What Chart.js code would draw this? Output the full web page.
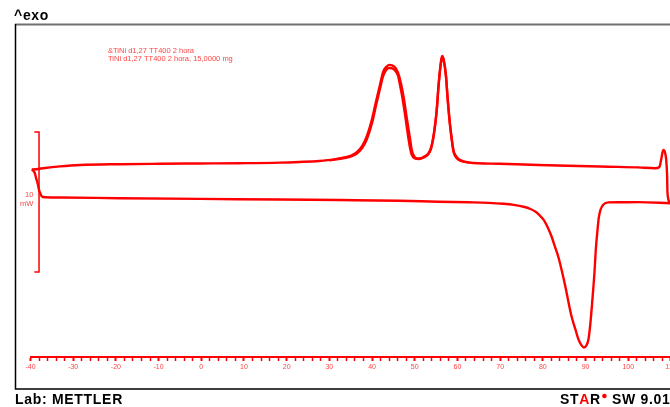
<!DOCTYPE html>
<html>
<head>
<meta charset="utf-8">
<script src="https://cdn.jsdelivr.net/npm/chart.js@4/dist/chart.umd.min.js"></script>
<style>
html, body { margin: 0; padding: 0; overflow: hidden; background: #fff; }
canvas { display: block; }
</style>
</head>
<body>
<canvas id="dsc" width="690" height="407"></canvas>
<script>
// cooling run (lower trace), read right to left, ends with the isothermal hook at -40 °C
var coolTemp = [109.8, 102.3, 97.7, 95.3, 94.2, 93.5, 93.1, 92.8, 92.4, 92.1, 91.6, 91.1, 90.7, 90.2, 89.6,
    89.0, 88.3, 87.6, 86.7, 86.0, 85.3, 84.4, 83.7, 82.7, 82.0, 81.1, 80.2, 79.2, 78.3, 77.1, 75.5, 73.2, 70.8,
    67.3, 62.7, 55.6, 46.3, 32.3, 18.3, -0.4, -19.1, -33.1, -36.6, -37.3, -37.6, -38.0, -38.3, -38.7, -39.0, -39.4, -39.7];
var coolFlow = [10.98, 11.06, 11.05, 11.04, 10.89, 10.50, 9.93, 9.07, 7.64, 6.07, 4.07, 2.29, 1.29, 0.82, 0.68,
    0.86, 1.29, 2.00, 2.93, 3.93, 5.00, 6.21, 7.07, 8.00, 8.64, 9.29, 9.79, 10.13, 10.37, 10.57, 10.73, 10.86, 10.94,
    11.01, 11.05, 11.09, 11.16, 11.21, 11.25, 11.29, 11.34, 11.39, 11.41, 11.46, 11.61, 11.93, 12.36, 12.79, 13.14, 13.32, 13.39];

// heating run (upper trace)
var heat1Temp = [-39.7, -38.7, -36.6, -33.1, -28.4, -19.1, -9.7, -0.4, 8.9, 18.3, 23.0, 27.6, 31.1, 33.5, 35.1,
    36.5, 37.7, 38.8, 40.0, 40.9, 41.9, 42.6, 43.3, 44.0, 44.7, 45.4, 46.1, 46.8, 47.5, 48.2, 48.9, 49.3, 49.8,
    50.5, 51.2, 52.1, 53.1, 53.8, 54.5, 55.1, 55.6, 56.1, 56.4, 56.8, 57.3, 57.7, 58.2, 58.7, 59.1, 59.8, 60.8,
    62.7, 69.7, 79.0, 88.3, 95.3, 102.3, 106.3, 107.3, 107.7, 108.2, 108.5, 108.9, 109.1, 109.2, 109.8];
var heat1Flow = [13.39, 13.41, 13.50, 13.61, 13.71, 13.77, 13.80, 13.82, 13.84, 13.88, 13.93, 14.00, 14.11, 14.25, 14.39,
    14.64, 15.07, 15.79, 17.00, 18.21, 19.50, 20.36, 20.71, 20.86, 20.82, 20.68, 20.29, 19.50, 18.36, 16.93, 15.57, 14.79, 14.36,
    14.18, 14.18, 14.29, 14.50, 14.93, 16.00, 17.50, 19.50, 21.00, 21.50, 21.21, 20.14, 18.50, 16.79, 15.50, 14.71, 14.29, 14.04,
    13.89, 13.80, 13.71, 13.64, 13.59, 13.54, 13.48, 13.57, 14.07, 14.79, 14.71, 14.07, 13.00, 11.71, 10.98];

// second heating trace (&TiNi), only differs around the transformation peaks
var heat2Temp = [30.0, 33.5, 35.1, 36.5, 37.7, 38.8, 40.0, 40.9, 41.9, 42.6, 43.3, 44.0, 44.7, 45.4, 46.1, 46.5,
    47.0, 47.7, 48.4, 48.9, 49.3, 50.0, 51.0, 52.1, 53.1, 53.8, 54.5, 55.1, 55.6, 56.1, 56.4, 56.8, 57.3, 57.7,
    58.2, 58.7, 59.1, 59.8, 60.8, 62.7];
var heat2Flow = [14.04, 14.21, 14.32, 14.54, 14.93, 15.57, 16.71, 17.93, 19.21, 20.07, 20.50, 20.64, 20.61, 20.46, 20.07, 19.50,
    18.71, 17.36, 15.86, 14.93, 14.43, 14.18, 14.14, 14.25, 14.46, 14.86, 15.93, 17.43, 19.43, 20.93, 21.43, 21.14, 20.07, 18.43,
    16.71, 15.43, 14.64, 14.21, 14.00, 13.89];

// 10 mW scale bar
var scaleBarTemp = -38.0;
var scaleBarSerifTemp = -39.1;
var scaleBarFlow = [6.07, 16.07];

var legendLines = ["&TiNi d1,27 TT400 2 hora", "TiNi d1,27 TT400 2 hora, 15,0000 mg"];

function toPoints(temps, flows) {
    var pts = [];
    for (var i = 0; i < temps.length; i++)
        pts.push({x: temps[i], y: flows[i]});
    return pts;
}

function makeDataset(temps, flows) {
    return {
        data: toPoints(temps, flows),
        borderColor: "#ff0000",
        borderWidth: 2.4,
        pointRadius: 0,
        cubicInterpolationMode: "monotone",
        fill: false
    };
}

var RED = "#ff0000";
var LIGHT_RED = "#ff4444";

var decorations = {
    id: "decorations",
    afterDraw: function (chart) {
        var ctx = chart.ctx;
        var xs = chart.scales.x, ys = chart.scales.y;
        ctx.save();

        // frame
        ctx.strokeStyle = "#707070";
        ctx.lineWidth = 2;
        ctx.beginPath();
        ctx.moveTo(15, 24.5);
        ctx.lineTo(chart.width, 24.5);
        ctx.stroke();
        ctx.strokeStyle = "#000";
        ctx.lineWidth = 1.5;
        ctx.beginPath();
        ctx.moveTo(15.5, 24);
        ctx.lineTo(15.5, 389);
        ctx.lineTo(chart.width, 389);
        ctx.stroke();

        // scale bar
        var bx = xs.getPixelForValue(scaleBarTemp);
        var sx = xs.getPixelForValue(scaleBarSerifTemp);
        var y1 = ys.getPixelForValue(scaleBarFlow[1]);
        var y2 = ys.getPixelForValue(scaleBarFlow[0]);
        ctx.strokeStyle = RED;
        ctx.lineWidth = 1.5;
        ctx.beginPath();
        ctx.moveTo(sx, y1);
        ctx.lineTo(bx, y1);
        ctx.lineTo(bx, y2);
        ctx.lineTo(sx, y2);
        ctx.stroke();

        ctx.fillStyle = LIGHT_RED;
        ctx.font = "7.5px 'Liberation Sans', Arial, sans-serif";
        ctx.textAlign = "right";
        ctx.textBaseline = "middle";
        var mid = (y1 + y2) / 2;
        ctx.fillText("10", sx - 1, mid - 7);
        ctx.fillText("mW", sx - 1, mid + 2);

        // legend
        ctx.textAlign = "left";
        ctx.fillText(legendLines[0], 108, 50.5);
        ctx.fillText(legendLines[1], 108, 59);

        // header / footer
        ctx.fillStyle = "#000";
        ctx.font = "bold 14px 'Liberation Sans', Arial, sans-serif";
        ctx.letterSpacing = "0.7px";
        ctx.textBaseline = "alphabetic";
        ctx.fillText("^exo", 14, 20);
        ctx.fillText("Lab: METTLER", 15, 404);

        var parts = [["ST", "#000"], ["A", RED], ["R", "#000"]];
        var x = 560;
        for (var i = 0; i < parts.length; i++) {
            ctx.fillStyle = parts[i][1];
            ctx.fillText(parts[i][0], x, 404);
            x += ctx.measureText(parts[i][0]).width;
        }
        ctx.fillStyle = RED;
        ctx.beginPath();
        ctx.arc(x + 3.5, 396, 2.3, 0, Math.PI * 2);
        ctx.fill();
        ctx.fillStyle = "#000";
        ctx.fillText("SW 9.01", x + 11, 404);
        ctx.restore();
    }
};

new Chart(document.getElementById("dsc"), {
    type: "line",
    data: {
        datasets: [
            makeDataset(coolTemp, coolFlow),
            makeDataset(heat1Temp, heat1Flow),
            makeDataset(heat2Temp, heat2Flow)
        ]
    },
    options: {
        responsive: false,
        animation: false,
        devicePixelRatio: 1,
        layout: {padding: {left: 30.5, top: 25, right: 0, bottom: 0}},
        plugins: {legend: {display: false}, tooltip: {enabled: false}},
        scales: {
            x: {
                type: "linear",
                min: -40,
                max: 114,
                border: {display: true, color: RED, width: 2},
                grid: {
                    drawOnChartArea: false,
                    tickLength: 4,
                    tickColor: RED,
                    tickWidth: function (c) { return c.tick && c.tick.value % 10 === 0 ? 2 : 1.5; }
                },
                ticks: {
                    stepSize: 2,
                    includeBounds: false,
                    autoSkip: false,
                    maxRotation: 0,
                    padding: 2,
                    color: LIGHT_RED,
                    font: {size: 7, family: "'Liberation Sans', Arial, sans-serif"},
                    callback: function (v) { return v % 10 === 0 ? String(v) : ""; }
                },
                afterFit: function (scale) { scale.height = 50; }
            },
            y: {display: false, min: 0, max: 23.71}
        }
    },
    plugins: [decorations]
});
</script>
</body>
</html>
